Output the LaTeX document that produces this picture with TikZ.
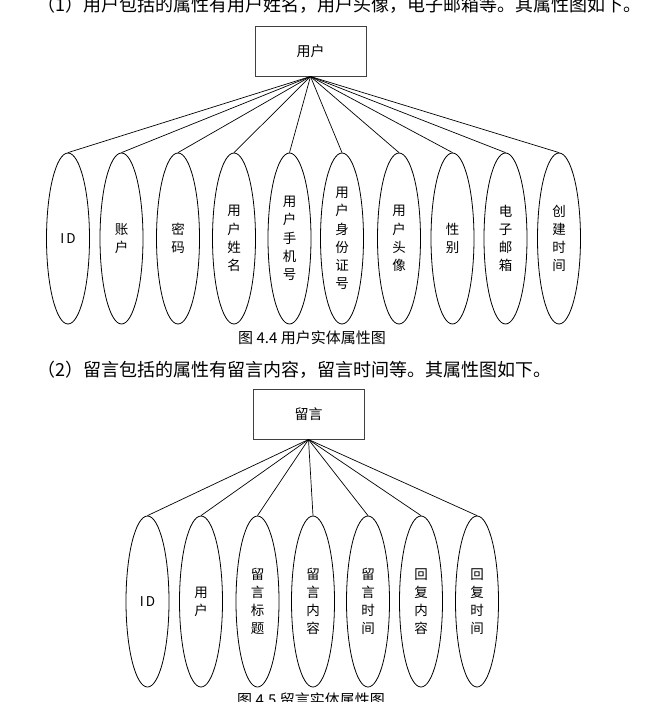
\documentclass[tikz,border=0pt]{standalone}
\usepackage{fontspec}
\setmainfont{Noto Sans CJK SC}
\usetikzlibrary{shapes.geometric}
\begin{document}
\begin{tikzpicture}[x=1pt,y=-1pt,
  attr/.style={draw, ellipse, line width=0.8pt, minimum width=43pt, minimum height=171pt, inner sep=0pt, align=center, font=\fontsize{13.5}{18.2}\selectfont},
  ent/.style={draw=black!75, line width=1pt, minimum width=111pt, minimum height=50pt, inner sep=0pt, font=\fontsize{14}{16}\selectfont},
  link/.style={line width=0.7pt},
  para/.style={anchor=west, inner sep=0pt, font=\fontsize{18}{20}\selectfont},
  captext/.style={inner sep=0pt, font=\fontsize{15}{17}\selectfont}]
\useasboundingbox (0,0) rectangle (661,702);

% ---------- part 1 ----------
\node[para] (p1) at (37,5) {（1）用户包括的属性有用户姓名，用户头像，电子邮箱等。其属性图如下。};
\node[ent] (u) at (310.5,51) {用户};

\node[attr] (a1) at (68,238.5) {I\hspace{2pt}D};
\node[attr] (a2) at (121.5,238.5) {账\\户};
\node[attr] (a3) at (178,238.5) {密\\码};
\node[attr] (a4) at (234,238.5) {用\\户\\姓\\名};
\node[attr] (a5) at (289.5,238.5) {用\\户\\手\\机\\号};
\node[attr] (a6) at (342,238.5) {用\\户\\身\\份\\证\\号};
\node[attr] (a7) at (399,238.5) {用\\户\\头\\像};
\node[attr] (a8) at (452.5,238.5) {性\\别};
\node[attr] (a9) at (505.5,238.5) {电\\子\\邮\\箱};
\node[attr] (a10) at (559,238.5) {创\\建\\时\\间};
\foreach \i in {1,...,10} \draw[link] (u.south) -- (a\i.north);

\node[captext] (c1) at (312,338) {图 4.4 用户实体属性图};

% ---------- part 2 ----------
\node[para] (p2) at (37,370) {（2）留言包括的属性有留言内容，留言时间等。其属性图如下。};
\node[ent] (m) at (308.5,414) {留言};

\node[attr] (b1) at (147.5,601.5) {I\hspace{2pt}D};
\node[attr] (b2) at (201,601.5) {用\\户};
\node[attr] (b3) at (257.5,601.5) {留\\言\\标\\题};
\node[attr] (b4) at (313,601.5) {留\\言\\内\\容};
\node[attr] (b5) at (368,601.5) {留\\言\\时\\间};
\node[attr] (b6) at (421,601.5) {回\\复\\内\\容};
\node[attr] (b7) at (477,601.5) {回\\复\\时\\间};
\foreach \i in {1,...,7} \draw[link] (m.south) -- (b\i.north);

\node[captext] (c2) at (311,700) {图 4.5 留言实体属性图};
\end{tikzpicture}
\end{document}
